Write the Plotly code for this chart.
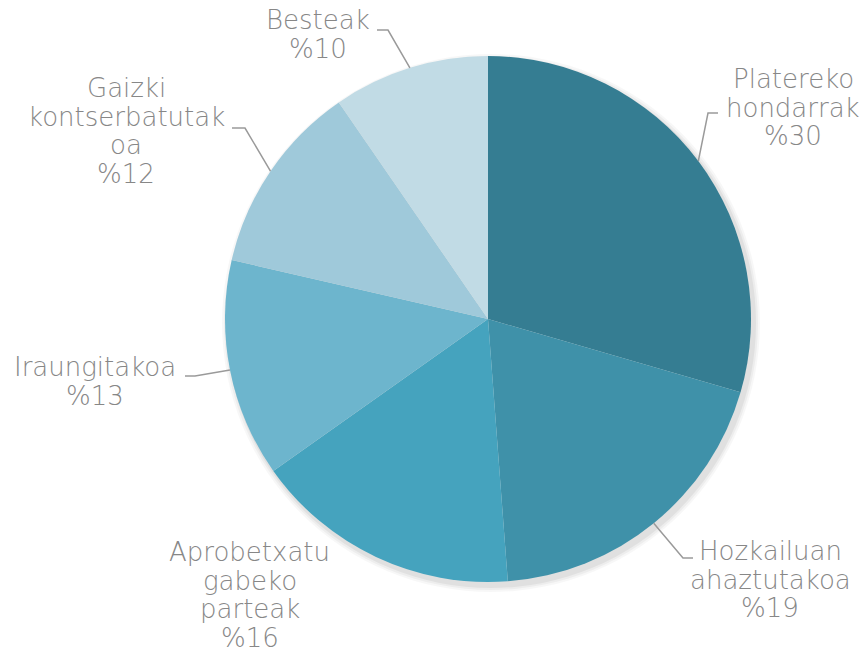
import math
import plotly.graph_objects as go

# ---- data ----
categories = ["Platereko hondarrak", "Hozkailuan ahaztutakoa", "Aprobetxatu gabeko parteak",
              "Iraungitakoa", "Gaizki kontserbatutakoa", "Besteak"]
label_lines = [["Platereko", "hondarrak"], ["Hozkailuan", "ahaztutakoa"], ["Aprobetxatu", "gabeko", "parteak"],
               ["Iraungitakoa"], ["Gaizki", "kontserbatutak", "oa"], ["Besteak"]]
values = [29.5, 19.3, 16.4, 13.4, 11.8, 9.6]          # slice sizes as drawn
percent_labels = ["%30", "%19", "%16", "%13", "%12", "%10"]  # printed labels

# ---- style / layout ----
colors = ["#357D92", "#3F91A9", "#45A3BE", "#6DB5CD", "#9FC9DA", "#C1DBE5"]
W, H = 866, 653
CX, CY, R = 488, 319, 263
LINE_H = 28.7
# label centre x and first-line y (px); leader elbow / horizontal end; None = no leader
label_pos = [(793, 79), (770, 551), (250, 552), (95, 367), (126, 88), (318, 20)]
elbows = [((708, 113), (718, 113)), ((683, 558), (693, 558)), None,
          ((195, 376), (185, 376)), ((245, 128), (232, 128)), ((388, 30), (377, 30))]
text_color = "#878787"
FONT = "DejaVu Sans"
FSIZE = 26

def px(x, y):
    return x / W, 1 - y / H

fig = go.Figure()

# faint shadow rings
for i, op in enumerate([0.05, 0.04, 0.03]):
    d = 2 + i * 2
    x0, y0 = px(CX - R - d + 3, CY - R - d + 4)
    x1, y1 = px(CX + R + d + 3, CY + R + d + 4)
    fig.add_shape(type="circle", xref="paper", yref="paper", x0=x0, x1=x1, y0=y1, y1=y0,
                  fillcolor=f"rgba(0,0,0,{op})", line_width=0, layer="below")

dx0, dy1 = px(CX - R, CY - R)
dx1, dy0 = px(CX + R, CY + R)
fig.add_trace(go.Pie(
    labels=categories, values=values, sort=False, direction="clockwise", rotation=0,
    marker=dict(colors=colors, line=dict(width=0)),
    textinfo="none", hoverinfo="label", showlegend=False,
    domain=dict(x=[dx0, dx1], y=[dy0, dy1]),
))

total = sum(values)
cum = 0
annotations = []
shapes = []
for i, v in enumerate(values):
    mid = (cum + v / 2) / total * 2 * math.pi
    cum += v
    ex = CX + R * math.sin(mid)
    ey = CY - R * math.cos(mid)
    lx, ly = label_pos[i]
    lines = label_lines[i] + [percent_labels[i]]
    for j, t in enumerate(lines):
        ax, ay = px(lx, ly + j * LINE_H)
        annotations.append(dict(
            x=ax, y=ay, xref="paper", yref="paper", showarrow=False,
            text=t, xanchor="center", yanchor="middle",
            font=dict(family=FONT, size=FSIZE, color=text_color, weight=200),
        ))
    if elbows[i] is not None:
        (bx, by), (hx, hy) = elbows[i]
        p0 = px(ex, ey); p1 = px(bx, by); p2 = px(hx, hy)
        path = f"M {p0[0]},{p0[1]} L {p1[0]},{p1[1]} L {p2[0]},{p2[1]}"
        shapes.append(dict(type="path", xref="paper", yref="paper", path=path,
                           line=dict(color="#9a9a9a", width=1.5)))

fig.update_layout(
    width=W, height=H,
    margin=dict(l=0, r=0, t=0, b=0),
    paper_bgcolor="white", plot_bgcolor="white",
    annotations=annotations,
)
for s in shapes:
    fig.add_shape(**s)

fig.write_html("out.html", config={"displayModeBar": False},
               post_script="document.body.style.margin='0';")
